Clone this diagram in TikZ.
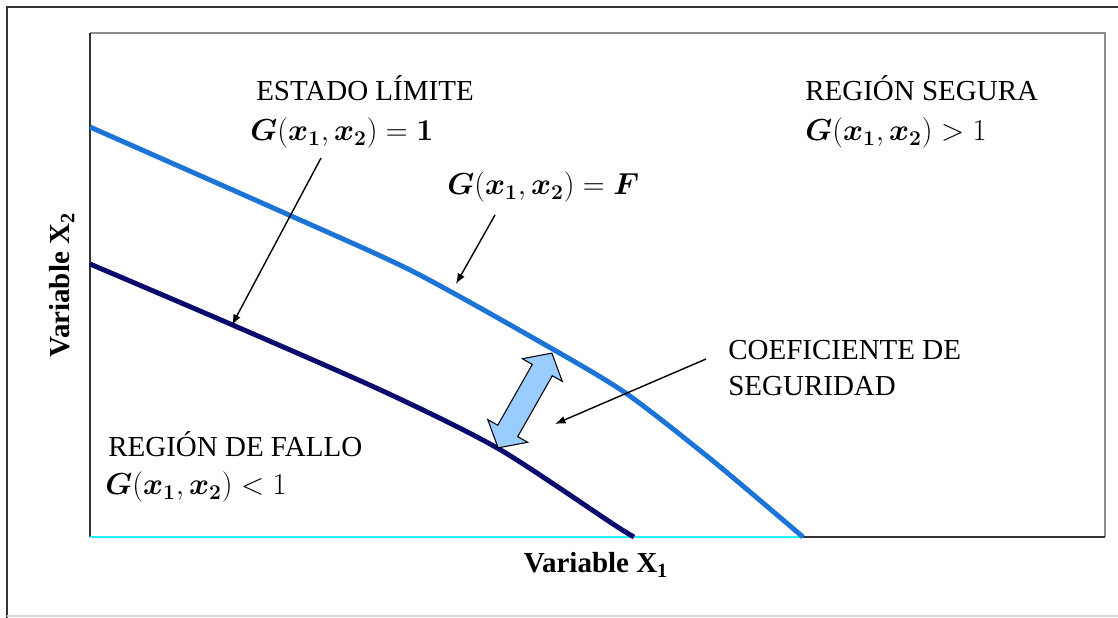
\documentclass[tikz,border=0pt]{standalone}
\usepackage{fontspec}
\setmainfont{Liberation Serif}
\usepackage{bm}
\usetikzlibrary{arrows.meta,positioning}
\definecolor{rsblue}{HTML}{1B74D6}
\definecolor{rsnavy}{HTML}{0B0B6E}
\definecolor{rscyan}{HTML}{22F2F2}
\definecolor{rsfill}{HTML}{99CCFF}
\definecolor{rsframe}{HTML}{333333}

\begin{document}
\begin{tikzpicture}[
  x=0.02cm, y=-0.02cm,
  lbl/.style={font=\fontsize{16.5}{19}\selectfont, text=black, inner sep=0pt},
  formula/.style={font=\fontsize{16.5}{19}\selectfont, text=black, inner sep=0pt},
  axislbl/.style={font=\fontsize{16.5}{19}\selectfont\bfseries, text=black, inner sep=0pt},
  pointer/.style={-{Latex[length=6pt,width=4.5pt]}, black, line width=0.8pt},
  curveF/.style={rsblue, line width=2.8pt},
  curveOne/.style={rsnavy, line width=2.8pt},
  fatarrow/.style={draw=black, line width=0.6pt, fill=rsfill, line join=miter},
]
  \useasboundingbox (0,0) rectangle (1118,618);

  % Outer frame
  \draw[rsframe, line width=1.2pt] (7,618) -- (7,7) -- (1118,7);
  \draw[black!15, line width=0.6pt] (7,616) -- (1118,616);

  % Plot box
  \draw[black!45, line width=1.2pt] (90,33) -- (1105,33) -- (1105,537);
  \draw[rsframe, line width=1.2pt] (90,537) -- (90,33);
  \draw[rsframe, line width=1.2pt] (803,537) -- (1105,537);
  \draw[rscyan, line width=1.4pt] (90,537) -- (803,537);

  % Limit state curves
  \draw[curveF] plot[smooth, tension=0.45] coordinates
    {(90,127) (289,215) (414,272) (549,347) (627,394) (713,461) (803,537)};
  \draw[curveOne] plot[smooth, tension=0.45] coordinates
    {(90,264) (228,323) (385,392) (499,449) (613,524) (634,537)};

  % Safety factor (double arrow between curves)
  \begin{scope}[shift={(525,400.5)}, rotate=60.4]
    \draw[fatarrow] (1.09cm,0) -- (0.7cm,0.46cm) -- (0.7cm,0.23cm)
      -- (-0.7cm,0.23cm) -- (-0.7cm,0.46cm) -- (-1.09cm,0)
      -- (-0.7cm,-0.46cm) -- (-0.7cm,-0.23cm) -- (0.7cm,-0.23cm)
      -- (0.7cm,-0.46cm) -- cycle;
  \end{scope}

  % Labels
  \node[lbl] (estado) at (365,88) {ESTADO LÍMITE};
  \node[formula, anchor=west] (gone) at (250,133)
    {$\bm{G}(\bm{x_1},\bm{x_2}) = \bm{1}$};
  \node[lbl, anchor=west] (segura) at (805,88) {REGIÓN SEGURA};
  \node[formula, anchor=west] (gsafe) at (805,133)
    {$\bm{G}(\bm{x_1},\bm{x_2}) > 1$};
  \node[formula, anchor=west] (gf) at (447,187)
    {$\bm{G}(\bm{x_1},\bm{x_2}) = \bm{F}$};
  \node[lbl, anchor=west, align=left] (coef) at (728,368)
    {COEFICIENTE DE\\[2pt]SEGURIDAD};
  \node[lbl, anchor=west] (fallo) at (108,444) {REGIÓN DE FALLO};
  \node[formula, anchor=west] (gfail) at (105,487)
    {$\bm{G}(\bm{x_1},\bm{x_2}) < 1$};

  % Axis titles
  \node[axislbl] (varx) at (596,565) {Variable X\textsubscript{1}};
  \node[axislbl, rotate=90] (vary) at (62,285) {Variable X\textsubscript{2}};

  % Pointers
  \coordinate (oneTail) at (321,158);
  \coordinate (oneHead) at (232,325);
  \coordinate (fTail) at (495,215);
  \coordinate (fHead) at (456,284);
  \coordinate (coefTail) at (706,359);
  \coordinate (coefHead) at (555,424);
  \draw[pointer] (oneTail) -- (oneHead);
  \draw[pointer] (fTail) -- (fHead);
  \draw[pointer] (coefTail) -- (coefHead);

\end{tikzpicture}
\end{document}
